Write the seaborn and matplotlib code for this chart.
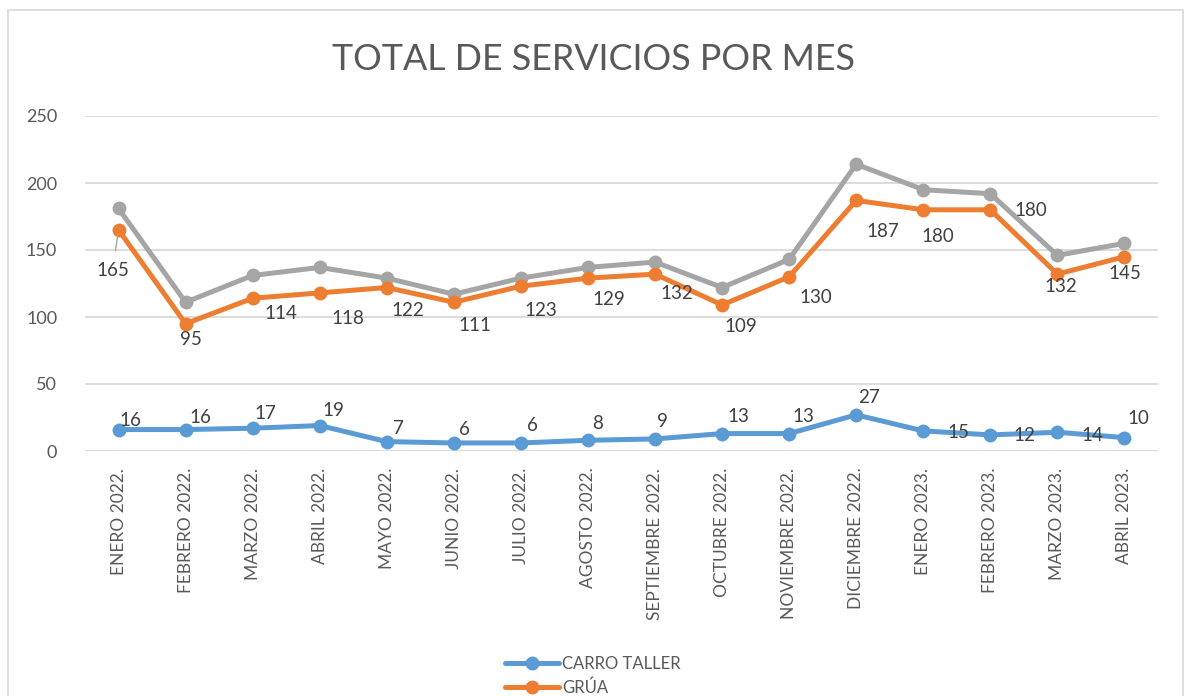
import matplotlib
matplotlib.use("Agg")
import matplotlib.pyplot as plt
from matplotlib.patches import Rectangle
from matplotlib.lines import Line2D
import pandas as pd
import seaborn as sns

# --- data -------------------------------------------------------------
meses = [
    "ENERO 2022.", "FEBRERO 2022.", "MARZO 2022.", "ABRIL 2022.",
    "MAYO 2022.", "JUNIO 2022.", "JULIO 2022.", "AGOSTO 2022.",
    "SEPTIEMBRE 2022.", "OCTUBRE 2022.", "NOVIEMBRE 2022.", "DICIEMBRE 2022.",
    "ENERO 2023.", "FEBRERO 2023.", "MARZO 2023.", "ABRIL 2023.",
]
carro_taller = [16, 16, 17, 19, 7, 6, 6, 8, 9, 13, 13, 27, 15, 12, 14, 10]
grua = [165, 95, 114, 118, 122, 111, 123, 129, 132, 109, 130, 187, 180, 180, 132, 145]
total = [c + g for c, g in zip(carro_taller, grua)]
series_names = ["CARRO TALLER", "GRÚA", "TOTAL"]
y_ticks = [0, 50, 100, 150, 200, 250]

# --- label placement (pixel offsets from each point) ------------------
off_taller = [(12, 9), (15, 12), (13, 15), (14, 15), (12, 13), (11, 13), (12, 17), (10, 17),
              (7, 17), (16, 17), (14, 17), (13, 17), (35, -2), (34, -1), (35, -3), (14, 19)]
off_grua = [(-6, -41), (5, -16), (28, -15), (28, -26), (21, -23), (21, -23), (20, -24), (21, -21),
            (22, -19), (19, -22), (27, -21), (27, -31), (15, -27), (40, -1), (3, -12), (0, -17)]

blue, orange, grey = "#5B9BD5", "#ED7D31", "#A5A5A5"
txt = "#595959"

sns.set_theme(style="white")
plt.rcParams["font.family"] = ["Lato", "DejaVu Sans"]

rows = []
for name, vals in zip(series_names, [carro_taller, grua, total]):
    for i, (m, v) in enumerate(zip(meses, vals)):
        rows.append({"mes": m, "idx": i, "serie": name, "valor": v})
df = pd.DataFrame(rows)

fig = plt.figure(figsize=(11.86, 6.96), dpi=100)
ax = fig.add_axes([85 / 1186, 245 / 696, (1158 - 85) / 1186, 335 / 696])

palette = {"CARRO TALLER": blue, "GRÚA": orange, "TOTAL": grey}
sns.lineplot(data=df, x="idx", y="valor", hue="serie", hue_order=["TOTAL", "GRÚA", "CARRO TALLER"],
             palette=palette, marker="o", markersize=10, markeredgewidth=0,
             linewidth=3.6, ax=ax, legend=False, sort=False)

ax.set_xlim(-0.5, len(meses) - 0.5)
ax.set_ylim(0, 250)
ax.set_yticks(y_ticks)
ax.set_yticklabels([str(t) for t in y_ticks])
ax.set_xticks(range(len(meses)))
ax.set_xticklabels(meses, rotation=90, va="top", ha="center")
ax.tick_params(axis="x", length=0, pad=12, labelsize=12.5, colors=txt)
ax.tick_params(axis="y", length=0, pad=20, labelsize=13, colors=txt)
ax.set_xlabel("")
ax.set_ylabel("")
ax.grid(axis="y", color="#D9D9D9", linewidth=1.3)
ax.set_axisbelow(True)
for s in ax.spines.values():
    s.set_visible(False)

# data labels
for i, (v, off) in enumerate(zip(carro_taller, off_taller)):
    ax.annotate(str(v), (i, v), xytext=off, textcoords="offset pixels",
                ha="center", va="center", fontsize=13.5, color="#404040")
for i, (v, off) in enumerate(zip(grua, off_grua)):
    kw = {}
    if i == 0:
        kw["arrowprops"] = dict(arrowstyle="-", color=grey, lw=1, shrinkA=6, shrinkB=3)
    ax.annotate(str(v), (i, v), xytext=off, textcoords="offset pixels",
                ha="center", va="center", fontsize=13.5, color="#404040", **kw)

fig.text(0.5, 1 - 60 / 696, "TOTAL DE SERVICIOS POR MES", ha="center", va="center",
         fontsize=25.8, color=txt)

handles = [Line2D([0], [0], color=blue, lw=3.6, marker="o", markersize=9),
           Line2D([0], [0], color=orange, lw=3.6, marker="o", markersize=9)]
fig.legend(handles, ["CARRO TALLER", "GRÚA"], loc="upper center",
           bbox_to_anchor=(0.5, 1 - 648 / 696), frameon=False, ncol=1,
           fontsize=12, labelcolor=txt, handlelength=3.2, handletextpad=0.2,
           labelspacing=0.45, borderpad=0)

# chart frame
fig.patches.append(Rectangle((8 / 1186, -0.05), (1183 - 8) / 1186, 1.05 - 10 / 696,
                             transform=fig.transFigure, fill=False,
                             edgecolor="#D9D9D9", linewidth=1.2))

fig.savefig("out.png", dpi=100)
